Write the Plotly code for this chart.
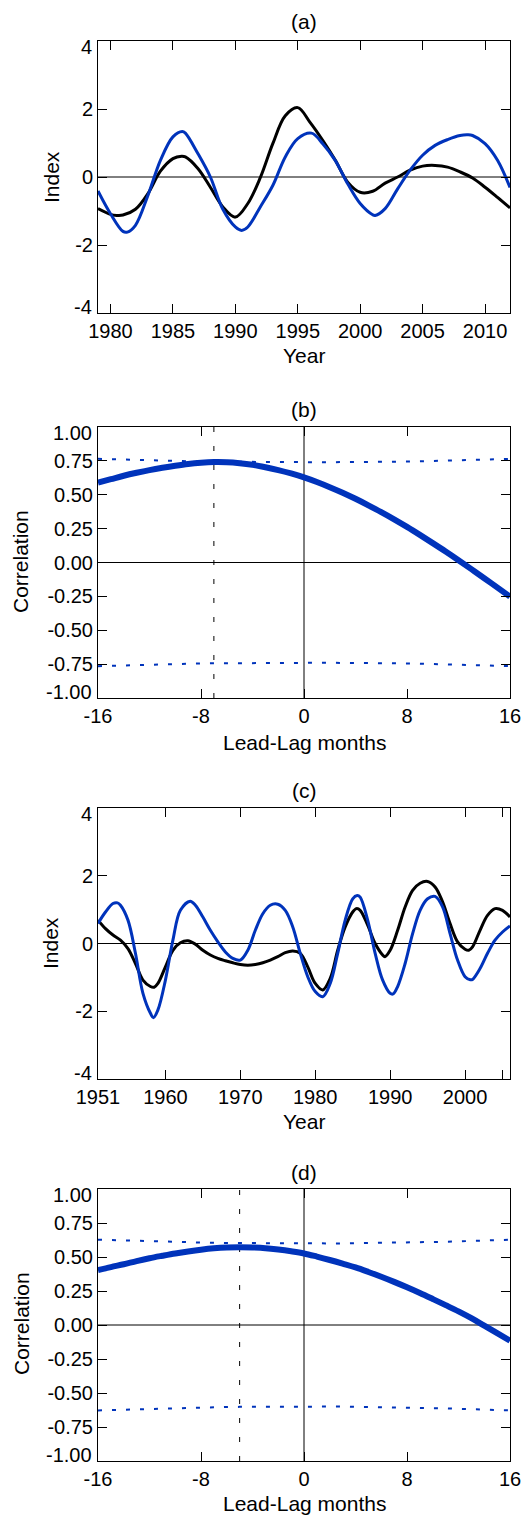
import plotly.graph_objects as go

# ---------------- data ----------------
# (a) indices, 1979-2012
years_a = [1979, 1980, 1980.5, 1981, 1982, 1983, 1984, 1985, 1985.7, 1986, 1987, 1988, 1989,
           1990, 1991, 1992, 1993, 1994, 1995, 1996, 1997, 1998, 1999, 2000, 2001, 2002,
           2003, 2004, 2005, 2006, 2007, 2008, 2009, 2010, 2011, 2012]
black_a = [-0.93, -1.10, -1.13, -1.12, -0.95, -0.49, 0.17, 0.54, 0.61, 0.59, 0.25, -0.30, -0.88,
           -1.18, -0.78, -0.02, 0.98, 1.80, 2.04, 1.60, 1.08, 0.50, -0.15, -0.45, -0.42, -0.18,
           0.00, 0.20, 0.32, 0.34, 0.29, 0.15, -0.03, -0.30, -0.60, -0.91]

years_a_blue = [1979, 1980, 1981, 1981.35, 1982, 1983, 1984, 1985, 1985.75, 1986, 1987, 1988,
                1989, 1990, 1990.5, 1991, 1992, 1993, 1994, 1995, 1996.1, 1997, 1998, 1999,
                2000, 2001, 2001.2, 2002, 2003, 2004, 2005, 2006, 2007, 2008, 2008.6, 2009,
                2010, 2011, 2012]
blue_a = [-0.41, -1.08, -1.60, -1.62, -1.42, -0.54, 0.49, 1.18, 1.34, 1.29, 0.69, 0.00,
          -0.95, -1.47, -1.57, -1.47, -0.88, -0.25, 0.59, 1.13, 1.29, 0.98, 0.49, -0.20,
          -0.78, -1.11, -1.13, -0.93, -0.35, 0.20, 0.64, 0.93, 1.10, 1.22, 1.24, 1.22,
          0.98, 0.49, -0.31]

# (c) indices, 1951-2006
years_c = [1951, 1952, 1953, 1954, 1955, 1956, 1957, 1958, 1958.5, 1959, 1960, 1961, 1962,
           1963, 1964, 1965, 1966, 1967, 1968, 1969, 1970, 1971, 1972, 1973, 1974, 1975,
           1976, 1977, 1978, 1979, 1980, 1981, 1982, 1983, 1984, 1985, 1985.5, 1986, 1987,
           1988, 1989, 1989.3, 1990, 1991, 1992, 1993, 1994, 1995, 1996, 1997, 1998, 1999,
           2000, 2000.5, 2001, 2002, 2003, 2004, 2005, 2006]
black_c = [0.69, 0.44, 0.25, 0.10, -0.15, -0.59, -1.08, -1.27, -1.29, -1.18, -0.69, -0.20, 0.02,
           0.08, -0.02, -0.20, -0.34, -0.44, -0.51, -0.57, -0.62, -0.64, -0.62, -0.57, -0.49,
           -0.39, -0.27, -0.22, -0.29, -0.69, -1.18, -1.37, -1.03, -0.20, 0.49, 0.93, 1.03,
           0.98, 0.54, 0.00, -0.34, -0.39, -0.20, 0.39, 1.08, 1.57, 1.78, 1.83, 1.67, 1.23,
           0.59, 0.05, -0.17, -0.20, -0.10, 0.39, 0.83, 1.03, 0.98, 0.78]

years_c_blue = [1951, 1952, 1953, 1953.6, 1954, 1955, 1956, 1957, 1958, 1958.4, 1959, 1960,
                1961, 1962, 1963.3, 1964, 1965, 1966, 1967, 1968, 1969, 1970, 1971, 1972,
                1973, 1974, 1975, 1976, 1977, 1978, 1979, 1980, 1981, 1982, 1983, 1984, 1985,
                1985.6, 1986, 1987, 1988, 1989, 1990, 1990.4, 1991, 1992, 1993, 1994, 1995,
                1996, 1997, 1998, 1999, 2000, 2000.7, 2001, 2002, 2003, 2004, 2005, 2006]
blue_c = [0.59, 0.93, 1.18, 1.20, 1.13, 0.69, -0.29, -1.47, -2.06, -2.19, -1.96, -1.08,
          0.10, 0.98, 1.25, 1.13, 0.78, 0.39, 0.05, -0.25, -0.44, -0.49, -0.20, 0.39,
          0.88, 1.13, 1.16, 0.98, 0.49, -0.29, -0.98, -1.42, -1.57, -1.18, -0.29, 0.69, 1.32,
          1.42, 1.37, 0.69, -0.29, -1.08, -1.47, -1.49, -1.27, -0.59, 0.29, 0.98, 1.32,
          1.39, 1.08, 0.29, -0.49, -0.98, -1.07, -1.06, -0.74, -0.29, 0.10, 0.34, 0.52]

# (b) and (d) lead-lag correlations
lags = list(range(-16, 17))
corr_b = [0.590, 0.615, 0.640, 0.662, 0.682, 0.699, 0.714, 0.727, 0.736, 0.741, 0.740,
          0.733, 0.721, 0.703, 0.682, 0.657, 0.628, 0.594, 0.556, 0.515, 0.470, 0.422,
          0.372, 0.319, 0.263, 0.204, 0.143, 0.081, 0.017, -0.049, -0.116, -0.184, -0.252]
sig_up_b = [0.765, 0.762, 0.759, 0.756, 0.753, 0.751, 0.749, 0.747, 0.745, 0.744, 0.743,
            0.742, 0.741, 0.741, 0.740, 0.740, 0.740, 0.740, 0.740, 0.741, 0.741, 0.742,
            0.743, 0.744, 0.745, 0.747, 0.749, 0.751, 0.753, 0.756, 0.759, 0.762, 0.765]
sig_lo_b = [-0.765, -0.762, -0.759, -0.756, -0.753, -0.751, -0.749, -0.747, -0.745, -0.744,
            -0.743, -0.742, -0.741, -0.741, -0.740, -0.740, -0.740, -0.740, -0.740, -0.741,
            -0.741, -0.742, -0.743, -0.744, -0.745, -0.747, -0.749, -0.751, -0.753, -0.756,
            -0.759, -0.762, -0.765]
peak_lag_b = -7

corr_d = [0.403, 0.426, 0.447, 0.470, 0.491, 0.509, 0.526, 0.541, 0.554, 0.564, 0.570,
          0.572, 0.570, 0.565, 0.555, 0.542, 0.526, 0.503, 0.478, 0.451, 0.423, 0.390,
          0.355, 0.317, 0.277, 0.235, 0.191, 0.146, 0.100, 0.050, -0.005, -0.060, -0.115]
sig_up_d = [0.627, 0.624, 0.621, 0.618, 0.615, 0.612, 0.610, 0.608, 0.606, 0.604, 0.603,
            0.602, 0.601, 0.600, 0.600, 0.600, 0.600, 0.600, 0.600, 0.600, 0.601, 0.602,
            0.603, 0.604, 0.606, 0.608, 0.610, 0.612, 0.615, 0.618, 0.621, 0.624, 0.627]
sig_lo_d = [-0.628, -0.625, -0.622, -0.619, -0.616, -0.613, -0.610, -0.608, -0.606, -0.604,
            -0.603, -0.602, -0.601, -0.600, -0.600, -0.600, -0.600, -0.600, -0.600, -0.600,
            -0.601, -0.602, -0.603, -0.604, -0.606, -0.608, -0.610, -0.613, -0.616, -0.619,
            -0.622, -0.625, -0.628]
peak_lag_d = -5

# tick labels (end labels are nudged inwards and drawn separately)
idx_ticks = [-4, -2, 0, 2, 4]
idx_text = ["-4", "-2", "0", "2", "4"]
corr_ticks = [-1.0, -0.75, -0.5, -0.25, 0.0, 0.25, 0.5, 0.75, 1.0]
corr_text = ["-1.00", "-0.75", "-0.50", "-0.25", "0.00", "0.25", "0.50", "0.75", "1.00"]
lag_ticks = [-16, -8, 0, 8, 16]
lag_text = ["-16", "-8", "0", "8", "16"]
year_ticks_a = [1980, 1985, 1990, 1995, 2000, 2005, 2010]
year_ticks_c = [1951, 1960, 1970, 1980, 1990, 2000, 2005]
year_text_c = ["1951", "1960", "1970", "1980", "1990", "2000", ""]

# ---------------- layout helpers ----------------
W, H = 525, 1515
FONT = "Liberation Sans, Arial, Helvetica, sans-serif"
BLUE = "#0033bb"
X0, X1 = 98, 510
panels = {"a": (41, 313), "b": (427, 698), "c": (808, 1079), "d": (1189, 1461)}


def px_x(px):
    return px / W


def px_y(py):
    return 1 - py / H


def ydom(key):
    top, bot = panels[key]
    return [px_y(bot), px_y(top)]


def inner_text(texts):
    return [""] + list(texts[1:-1]) + [""]


axis_common = dict(
    showline=True, linecolor="black", linewidth=1, mirror="ticks",
    ticks="inside", ticklen=9, tickwidth=1, tickcolor="black",
    showgrid=False, zeroline=False, automargin=False,
    tickfont=dict(family=FONT, size=20, color="black"),
)

fig = go.Figure()

# (a)
fig.add_trace(go.Scatter(x=years_a, y=black_a, mode="lines", line=dict(color="black", width=3, shape="spline"),
                         xaxis="x", yaxis="y", showlegend=False))
fig.add_trace(go.Scatter(x=years_a_blue, y=blue_a, mode="lines", line=dict(color=BLUE, width=3, shape="spline"),
                         xaxis="x", yaxis="y", showlegend=False))
# (b)
fig.add_trace(go.Scatter(x=lags, y=sig_up_b, mode="lines", line=dict(color=BLUE, width=2, dash="4px,10px"),
                         xaxis="x2", yaxis="y2", showlegend=False))
fig.add_trace(go.Scatter(x=lags, y=sig_lo_b, mode="lines", line=dict(color=BLUE, width=2, dash="4px,10px"),
                         xaxis="x2", yaxis="y2", showlegend=False))
fig.add_trace(go.Scatter(x=lags, y=corr_b, mode="lines", line=dict(color=BLUE, width=6, shape="spline"),
                         xaxis="x2", yaxis="y2", showlegend=False))
# (c)
fig.add_trace(go.Scatter(x=years_c, y=black_c, mode="lines", line=dict(color="black", width=3, shape="spline"),
                         xaxis="x3", yaxis="y3", showlegend=False))
fig.add_trace(go.Scatter(x=years_c_blue, y=blue_c, mode="lines", line=dict(color=BLUE, width=3, shape="spline"),
                         xaxis="x3", yaxis="y3", showlegend=False))
# (d)
fig.add_trace(go.Scatter(x=lags, y=sig_up_d, mode="lines", line=dict(color=BLUE, width=2, dash="4px,10px"),
                         xaxis="x4", yaxis="y4", showlegend=False))
fig.add_trace(go.Scatter(x=lags, y=sig_lo_d, mode="lines", line=dict(color=BLUE, width=2, dash="4px,10px"),
                         xaxis="x4", yaxis="y4", showlegend=False))
fig.add_trace(go.Scatter(x=lags, y=corr_d, mode="lines", line=dict(color=BLUE, width=6, shape="spline"),
                         xaxis="x4", yaxis="y4", showlegend=False))

shapes = []
# zero lines
for xr, yr in [("x", "y"), ("x2", "y2"), ("x3", "y3"), ("x4", "y4")]:
    shapes.append(dict(type="line", xref=f"{xr} domain", yref=yr, x0=0, x1=1, y0=0, y1=0,
                       line=dict(color="black", width=1), layer="below"))
for xr, yr, pk in [("x2", "y2", peak_lag_b), ("x4", "y4", peak_lag_d)]:
    shapes.append(dict(type="line", xref=xr, yref=f"{yr} domain", x0=0, x1=0, y0=0, y1=1,
                       line=dict(color="black", width=1), layer="below"))
    shapes.append(dict(type="line", xref=xr, yref=f"{yr} domain", x0=pk, x1=pk, y0=0, y1=1,
                       line=dict(color="black", width=1, dash="5px,14px"), layer="below"))

annotations = []


def text(s, xp, yp, size=21, angle=0, anchor="center"):
    annotations.append(dict(text=s, x=px_x(xp), y=px_y(yp), xref="paper", yref="paper",
                            showarrow=False, xanchor=anchor, yanchor="middle", textangle=angle,
                            borderpad=0, font=dict(family=FONT, size=size, color="black")))


text("(a)", 304, 22)
text("(b)", 304, 410)
text("(c)", 304, 790)
text("(d)", 304, 1172)
text("Year", 304, 355)
text("Lead-Lag months", 304, 742)
text("Year", 304, 1121)
text("Lead-Lag months", 304, 1503)
text("Index", 51, 177, angle=-90)
text("Correlation", 21, 562, angle=-90)
text("Index", 51, 943, angle=-90)
text("Correlation", 21, 1324, angle=-90)

# end-of-axis y labels, nudged inside the frame
for key, texts in [("a", idx_text), ("b", corr_text), ("c", idx_text), ("d", corr_text)]:
    top, bot = panels[key]
    text(texts[-1], 93, top + 6, size=20, anchor="right")
    text(texts[0], 93, bot - 6, size=20, anchor="right")

layout = dict(
    width=W, height=H, margin=dict(l=0, r=0, t=0, b=0, autoexpand=False),
    paper_bgcolor="white", plot_bgcolor="white", showlegend=False,
    shapes=shapes, annotations=annotations,
    xaxis=dict(axis_common, domain=[px_x(X0), px_x(X1)], range=[1979, 2012], anchor="y",
               tickvals=year_ticks_a, ticktext=[str(v) for v in year_ticks_a]),
    yaxis=dict(axis_common, domain=ydom("a"), range=[-4, 4], anchor="x",
               tickvals=idx_ticks, ticktext=inner_text(idx_text)),
    xaxis2=dict(axis_common, domain=[px_x(X0), px_x(X1)], range=[-16, 16], anchor="y2",
                tickvals=lag_ticks, ticktext=lag_text),
    yaxis2=dict(axis_common, domain=ydom("b"), range=[-1, 1], anchor="x2",
                tickvals=corr_ticks, ticktext=inner_text(corr_text)),
    xaxis3=dict(axis_common, domain=[px_x(X0), px_x(X1)], range=[1951, 2006], anchor="y3",
                tickvals=year_ticks_c, ticktext=year_text_c),
    yaxis3=dict(axis_common, domain=ydom("c"), range=[-4, 4], anchor="x3",
                tickvals=idx_ticks, ticktext=inner_text(idx_text)),
    xaxis4=dict(axis_common, domain=[px_x(X0), px_x(X1)], range=[-16, 16], anchor="y4",
                tickvals=lag_ticks, ticktext=lag_text),
    yaxis4=dict(axis_common, domain=ydom("d"), range=[-1, 1], anchor="x4",
                tickvals=corr_ticks, ticktext=inner_text(corr_text)),
)
fig.update_layout(layout)
fig.write_html("out.html")
